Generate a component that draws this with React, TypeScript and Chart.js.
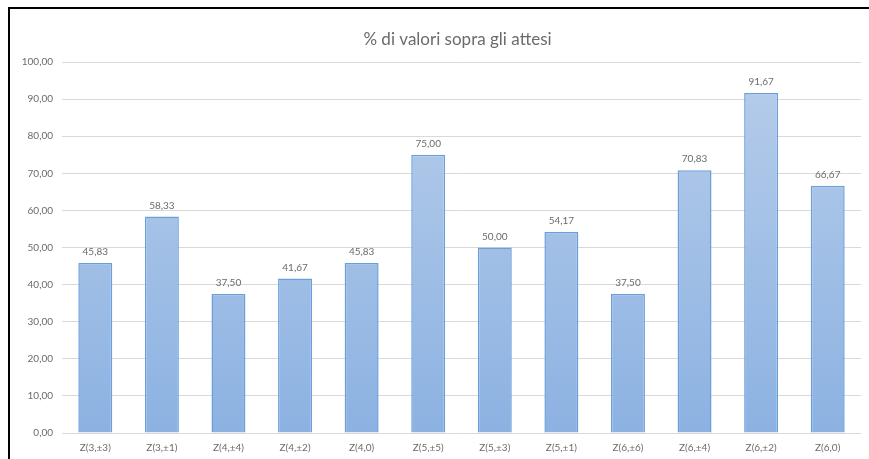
import React, { useEffect, useRef } from "react";
import { Chart, registerables } from "chart.js";

Chart.register(...registerables);

const categories = [
  "Z(3,±3)", "Z(3,±1)", "Z(4,±4)", "Z(4,±2)", "Z(4,0)", "Z(5,±5)",
  "Z(5,±3)", "Z(5,±1)", "Z(6,±6)", "Z(6,±4)", "Z(6,±2)", "Z(6,0)",
];
const percentages = [45.83, 58.33, 37.5, 41.67, 45.83, 75.0, 50.0, 54.17, 37.5, 70.83, 91.67, 66.67];
const yTicks = [0, 10, 20, 30, 40, 50, 60, 70, 80, 90, 100];
const chartTitle = "% di valori sopra gli attesi";

const FONT = "Lato, 'Open Sans', sans-serif";
const TEXT = "#6b6b6b";

const fmt = (v: number) => v.toFixed(2).replace(".", ",");

// value above each bar
const valueLabels = {
  id: "valueLabels",
  afterDatasetsDraw(chart: any) {
    const { ctx } = chart;
    const meta = chart.getDatasetMeta(0);
    ctx.save();
    ctx.font = `10px ${FONT}`;
    ctx.fillStyle = TEXT;
    ctx.textAlign = "center";
    ctx.textBaseline = "bottom";
    meta.data.forEach((bar: any, i: number) => {
      ctx.fillText(fmt(percentages[i]), bar.x, bar.y - 6);
    });
    ctx.restore();
  },
};

// title centred over the plot area
const plotTitle = {
  id: "plotTitle",
  afterDraw(chart: any) {
    const { ctx, chartArea } = chart;
    ctx.save();
    ctx.font = `17px ${FONT}`;
    ctx.fillStyle = TEXT;
    ctx.textAlign = "center";
    ctx.textBaseline = "middle";
    ctx.fillText(chartTitle, (chartArea.left + chartArea.right) / 2 - 4, 31);
    ctx.restore();
  },
};

export default function App() {
  const ref = useRef<HTMLCanvasElement>(null);

  useEffect(() => {
    if (!ref.current) return;
    const chart = new Chart(ref.current, {
      type: "bar",
      data: {
        labels: categories,
        datasets: [
          {
            data: percentages,
            backgroundColor: (c: any) => {
              const area = c.chart.chartArea;
              if (!area) return "#a3c0e6";
              const g = c.chart.ctx.createLinearGradient(0, area.top, 0, area.bottom);
              g.addColorStop(0, "#b7cdea");
              g.addColorStop(1, "#8cb2e2");
              return g;
            },
            borderColor: "#6a9fdc",
            borderWidth: 1.5,
            categoryPercentage: 1,
            barPercentage: 0.51,
          },
        ],
      },
      options: {
        animation: false,
        responsive: true,
        maintainAspectRatio: false,
        layout: { padding: { top: 53, right: 8, left: 0, bottom: 4 } },
        plugins: {
          legend: { display: false },
          tooltip: { enabled: false },
          title: { display: false },
        },
        scales: {
          x: {
            grid: { display: false, drawTicks: false },
            border: { display: false },
            ticks: { color: TEXT, font: { family: FONT, size: 10 }, padding: 9, maxRotation: 0 },
          },
          y: {
            min: 0,
            max: 100,
            afterBuildTicks: (s: any) => {
              s.ticks = yTicks.map((v) => ({ value: v }));
            },
            afterFit: (s: any) => {
              s.width = 52;
            },
            grid: { color: "#d9d9d9", drawTicks: false, lineWidth: 1 },
            border: { display: false },
            ticks: {
              color: TEXT,
              font: { family: FONT, size: 10 },
              padding: 9,
              callback: (v: any) => fmt(Number(v)),
            },
          },
        },
      },
      plugins: [valueLabels, plotTitle],
    });
    return () => chart.destroy();
  }, []);

  return (
    <div
      style={{
        position: "fixed",
        left: 8,
        top: 7,
        width: 861,
        height: 460,
        borderLeft: "2px solid #000",
        borderTop: "2px solid #000",
        boxSizing: "border-box",
        background: "#fff",
      }}
    >
      <canvas ref={ref} />
    </div>
  );
}
